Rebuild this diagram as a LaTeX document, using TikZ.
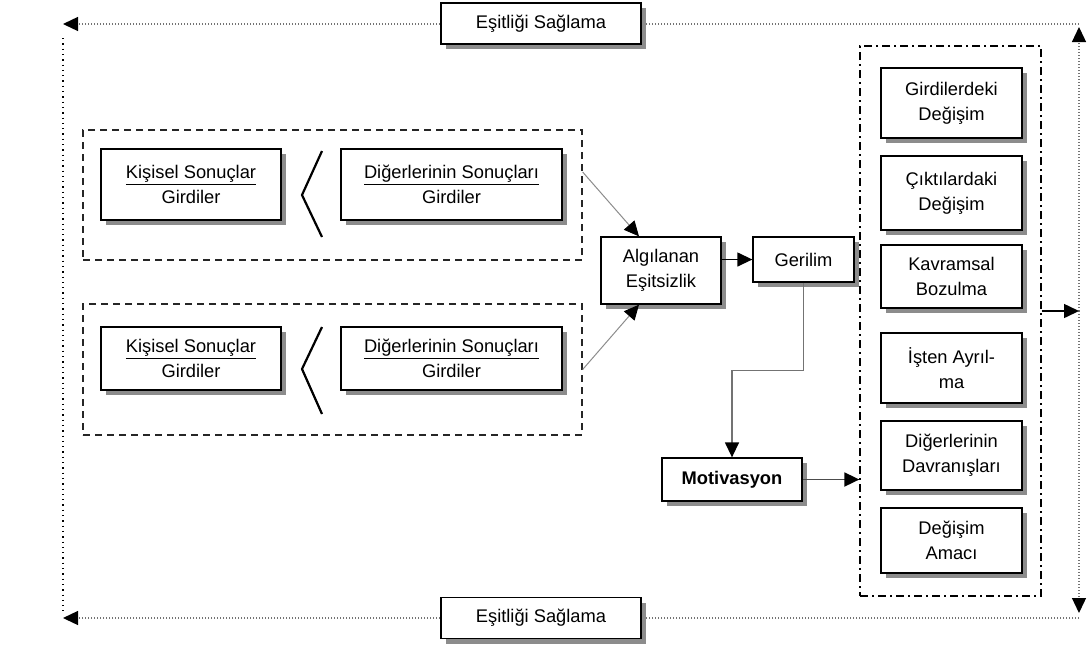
\documentclass[tikz,border=0pt]{standalone}
\usepackage{fontspec}
\setmainfont{Liberation Sans}
\usetikzlibrary{arrows.meta,shadows,calc}

\tikzset{
  txt/.style={font=\fontsize{18.3}{25}\selectfont, align=center, inner sep=0pt},
  box/.style={txt, draw=black, line width=1.3pt, fill=white,
    drop shadow={shadow xshift=5pt, shadow yshift=-5pt, fill=black!45, opacity=1}},
  grp/.style={draw=black!85, line width=1.3pt, dash pattern=on 7pt off 5pt},
  dashdotbox/.style={draw=black, line width=1.3pt, dash pattern=on 8pt off 4pt on 2pt off 4pt},
  tip/.style={-{Triangle[length=15pt,width=14pt,color=black]}},
  dotline/.style={draw=black!55, line width=1.3pt, dash pattern=on 1.1pt off 1.9pt},
  sidedots/.style={draw=black, line width=1.3pt, dash pattern=on 1.3pt off 4pt},
  less/.style={draw=black, line width=2.2pt},
}

\begin{document}
\begin{tikzpicture}[x=1pt,y=-1pt]
\useasboundingbox (0,0) rectangle (1089,646);

% corners of the outer feedback loop
\coordinate (tr) at (1079,24);
\coordinate (br) at (1079,618);
\coordinate (tl) at (63,24);
\coordinate (bl) at (63,618);
\coordinate (j)  at (1079,311);

% feedback loop (drawn first so the boxes cover it)
\draw[dotline,tip] (tr) -- (tl);
\draw[dotline,tip] (br) -- (bl);
\draw[dotline,tip] (j) -- ([yshift=-3pt]tr);
\draw[dotline,tip] (j) -- ([yshift=5pt]br);
\draw[sidedots] ([yshift=-14pt]tl) -- ([yshift=7pt]bl);

% "Eşitliği Sağlama" labels
\node[box, minimum width=200pt, minimum height=41pt] (eqtop) at (541,23.5) {Eşitliği Sağlama};
\node[box, minimum width=200pt, minimum height=41pt] (eqbot) at (541,618) {Eşitliği Sağlama};

% comparison groups
\node[grp, minimum width=499pt, minimum height=130pt] (g1) at (332.5,195) {};
\node[grp, minimum width=499pt, minimum height=131pt] (g2) at (332.5,369.5) {};

\node[box, minimum width=180pt, minimum height=71pt] (k1) at (191,184.5)
  {\underline{Kişisel Sonuçlar}\\Girdiler};
\node[box, minimum width=221pt, minimum height=71pt] (d1) at (451.5,184.5)
  {\underline{Diğerlerinin Sonuçları}\\Girdiler};
\node[box, minimum width=180pt, minimum height=63pt] (k2) at (191,358.5)
  {\underline{Kişisel Sonuçlar}\\Girdiler};
\node[box, minimum width=221pt, minimum height=63pt] (d2) at (451.5,358.5)
  {\underline{Diğerlerinin Sonuçları}\\Girdiler};

% "<" signs between the boxes
\draw[less] (322,151) -- (302,195) -- (322,237);
\draw[less] (322,327) -- (302,369) -- (322,414);

% central chain
\node[box, minimum width=120pt, minimum height=67pt] (alg) at (661,270.5) {Algılanan\\Eşitsizlik};
\node[box, minimum width=101pt, minimum height=45pt] (ger) at (803.5,259.5) {Gerilim};
\node[box, minimum width=140pt, minimum height=43pt, font=\fontsize{18.3}{25}\selectfont\bfseries] (mot) at (732,479.5) {Motivasyon};

% reactions
\node[dashdotbox, minimum width=181pt, minimum height=550pt] (res) at (950.5,321) {};
\node[box, minimum width=141pt, minimum height=70pt] (r1) at (951.5,103)   {Girdilerdeki\\Değişim};
\node[box, minimum width=141pt, minimum height=74pt] (r2) at (951.5,193)   {Çıktılardaki\\Değişim};
\node[box, minimum width=141pt, minimum height=63pt] (r3) at (951.5,276.5) {Kavramsal\\Bozulma};
\node[box, minimum width=141pt, minimum height=70pt] (r4) at (951.5,368)   {İşten Ayrıl-\\ma};
\node[box, minimum width=141pt, minimum height=69pt] (r5) at (951.5,455.5) {Diğerlerinin\\Davranışları};
\node[box, minimum width=141pt, minimum height=65pt] (r6) at (951.5,540.5) {Değişim\\Amacı};

% connectors
\draw[black!45, line width=1pt, tip] ([yshift=23pt]g1.east) -- ([xshift=-22pt]alg.north);
\draw[black!45, line width=1pt, tip] (g2.east) -- ([xshift=-22pt]alg.south);
\draw[black, line width=1.3pt, tip] (alg.east |- ger.west) -- (ger.west);
\draw[black!55, line width=1.4pt, tip] (ger.south) -- ++(0,88) -| (mot.north);
\draw[black!70, line width=1.8pt, tip] (mot.east) -- (res.west |- mot.east);
\draw[black, line width=1.5pt, tip] (res.east |- j) -- (j);
\end{tikzpicture}
\end{document}
